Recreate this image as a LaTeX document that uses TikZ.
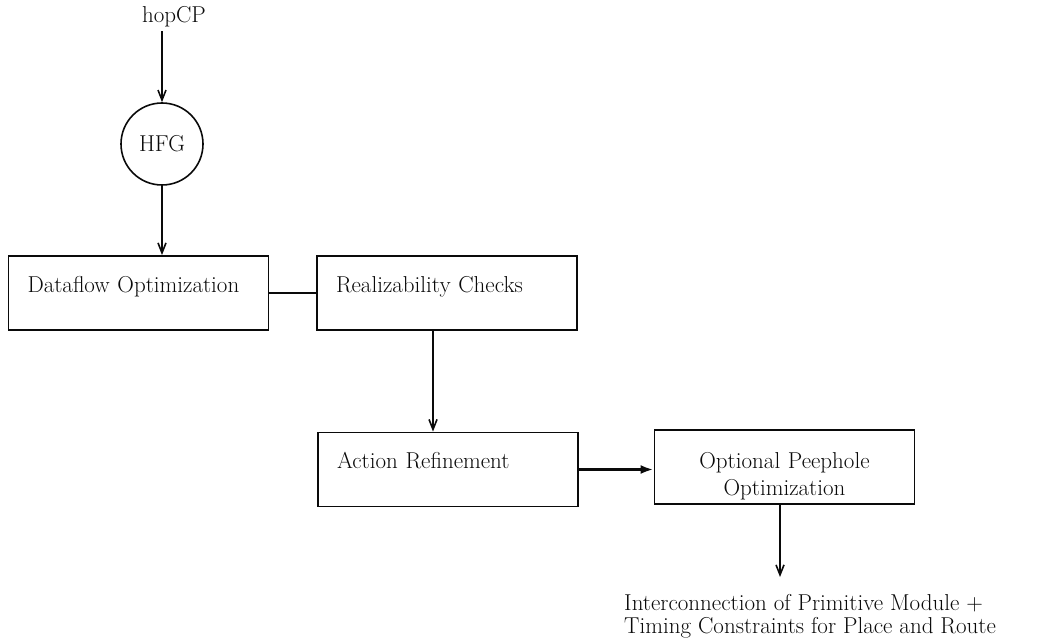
\documentclass[tikz,border=0pt]{standalone}
\usepackage{fontspec}
\usepackage{tikz}
\usetikzlibrary{arrows.meta,positioning,calc}
\definecolor{Ink}{HTML}{0A0A0A}
\tikzset{
  >={Straight Barb[length=10pt,width=8pt]},
  txt/.style={font=\fontsize{23}{27}\selectfont,text=Ink},
  stage/.style={txt,draw=Ink,line width=1.9pt,minimum height=74pt,inner xsep=19pt,text width=222pt,text depth=18pt,align=left},
  graphnode/.style={txt,circle,draw=Ink,line width=1.6pt,minimum size=82pt,inner sep=0pt},
  flow/.style={->,line width=1.6pt,draw=Ink},
  bigflow/.style={-{Latex[length=13pt,width=9pt]},line width=2.8pt,draw=Ink},
  link/.style={line width=1.9pt,draw=Ink},
  lab/.style={txt,inner sep=4pt}
}
\begin{document}
\begin{tikzpicture}[x=1pt,y=-1pt]
    \useasboundingbox (0,0) rectangle (1040,644);
    \node[lab] (src) at (174,17) {hopCP};
    \node[graphnode] (hfg) at (162,144) {HFG};
    \node[stage] (df) at (138.5,293) {Dataflow~Optimization};
    \node[stage] (rc) at (447,293) {Realizability~Checks};
    \node[stage] (ar) at (448,469.5) {Action~Refinement};
    \node[stage,text depth=,align=center] (pp) at (784.5,467) {\rule{0pt}{34pt}Optional Peephole\\Optimization};
    \node[txt,anchor=north west,inner sep=0pt,align=left] (out) at (624,594)
      {Interconnection of Primitive Module +\\[-4pt]Timing Constraints for Place and Route};
    \draw[flow] (src.south -| hfg.north) -- (hfg.north);
    \draw[flow] (hfg.south) -- (hfg.south |- df.north);
    \draw[link] (df.east) -- (rc.west);
    \draw[flow] ([xshift=-14pt]rc.south) -- ([xshift=-14pt]rc.south |- ar.north);
    \draw[bigflow] (ar.east) -- (ar.east -| pp.west);
    \coordinate (tap) at ([xshift=-4.5pt]pp.south);
    \draw[flow,shorten >=17pt] (tap) -- (tap |- out.north);
  \end{tikzpicture}
\end{document}
